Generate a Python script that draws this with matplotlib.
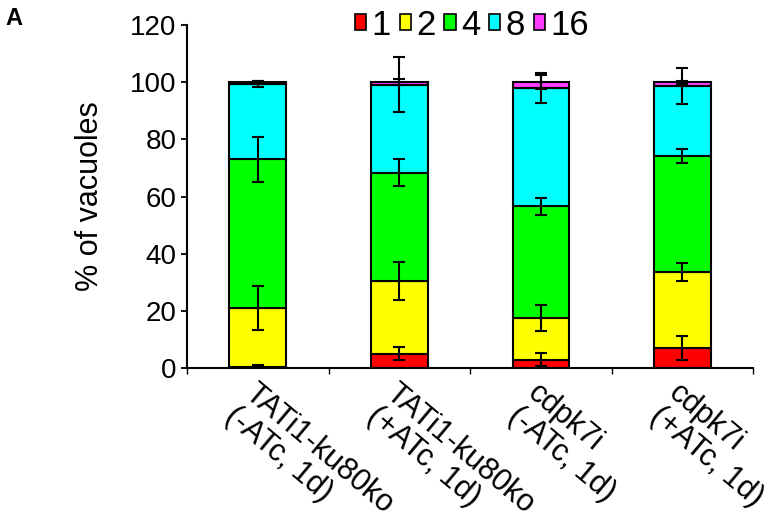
import matplotlib
matplotlib.use("Agg")
import matplotlib.pyplot as plt
import numpy as np

plt.rcParams['font.family'] = ['Liberation Sans', 'DejaVu Sans']

categories = ["TATi1-ku80ko\n(-ATc, 1d)", "TATi1-ku80ko\n(+ATc, 1d)",
              "cdpk7i\n(-ATc, 1d)", "cdpk7i\n(+ATc, 1d)"]
series_names = ["1", "2", "4", "8", "16"]
colors = ["#FF0000", "#FFFF00", "#00FF00", "#00FFFF", "#FF3CFF"]

# segment values (% of vacuoles)
v1 = [0.5, 5.1, 3.0, 7.2]
v2 = [20.4, 25.4, 14.6, 26.5]
v4 = [52.1, 37.8, 39.0, 40.5]
v8 = [26.3, 30.9, 41.4, 24.5]
v16 = [0.7, 0.8, 2.0, 1.3]

# error values
e1 = [0.5, 2.3, 2.2, 4.2]
e2 = [7.7, 6.5, 4.5, 3.2]
e4 = [7.9, 4.7, 3.0, 2.3]
e8 = [1.0, 9.5, 5.3, 6.4]
e16 = [0.5, 1.0, 2.4, 0.5]

values = [v1, v2, v4, v8, v16]
errors = [e1, e2, e4, e8, e16]

fig = plt.figure(figsize=(7.71, 5.12), dpi=100)
ax = fig.add_axes([0.2425, 0.281, 0.7345, 0.670])

x = np.arange(len(categories))
bottom = np.zeros(len(categories))
handles = []
for vals, errs, col, name in zip(values, errors, colors, series_names):
    vals = np.array(vals)
    h = ax.bar(x, vals, width=0.40, bottom=bottom, color=col, edgecolor="black",
               linewidth=1.5, label=name, zorder=2)
    handles.append(h)
    bottom = bottom + vals
    ax.errorbar(x, bottom, yerr=errs, fmt="none", ecolor="black", elinewidth=1.5,
                capsize=4, capthick=1.5, zorder=3)

ax.set_xlim(-0.5, len(categories) - 0.5)
ax.set_ylim(0, 120)
ax.set_yticks(np.arange(0, 121, 20))
ax.tick_params(axis="y", labelsize=20, width=1.3, length=4.5, direction="out", pad=3)
ax.set_xticks(x)
ax.set_xticklabels([])
ax.tick_params(axis="x", which="major", length=0)
ax.set_xticks(np.arange(-0.5, len(categories), 1.0), minor=True)
ax.tick_params(axis="x", which="minor", length=4, width=1.0, direction="out")

for xi, lab in zip(x, categories):
    ax.text(xi + 0.0, -3.5, lab, rotation=-40, rotation_mode="anchor", ha="left", va="top",
            multialignment="left", fontsize=22, linespacing=1.0, transform=ax.transData)

for s in ["top", "right"]:
    ax.spines[s].set_visible(False)
ax.spines["left"].set_linewidth(1.5)
ax.spines["bottom"].set_linewidth(1.5)

ax.set_ylabel("% of vacuoles", fontsize=22)
ax.yaxis.set_label_coords(-0.145, 0.5)

leg = fig.legend(handles=handles, labels=series_names, loc="center", bbox_to_anchor=(0.612, 0.951),
                 ncol=5, frameon=False, fontsize=25, handlelength=0.33, handleheight=0.33,
                 handletextpad=0.15, columnspacing=0.25, borderaxespad=0, borderpad=0)
for p in leg.get_patches():
    p.set_linewidth(1.2)

fig.text(0.018, 0.964, "A", fontsize=17, fontweight="bold", ha="center", va="center")

fig.savefig("out.png", dpi=100)
